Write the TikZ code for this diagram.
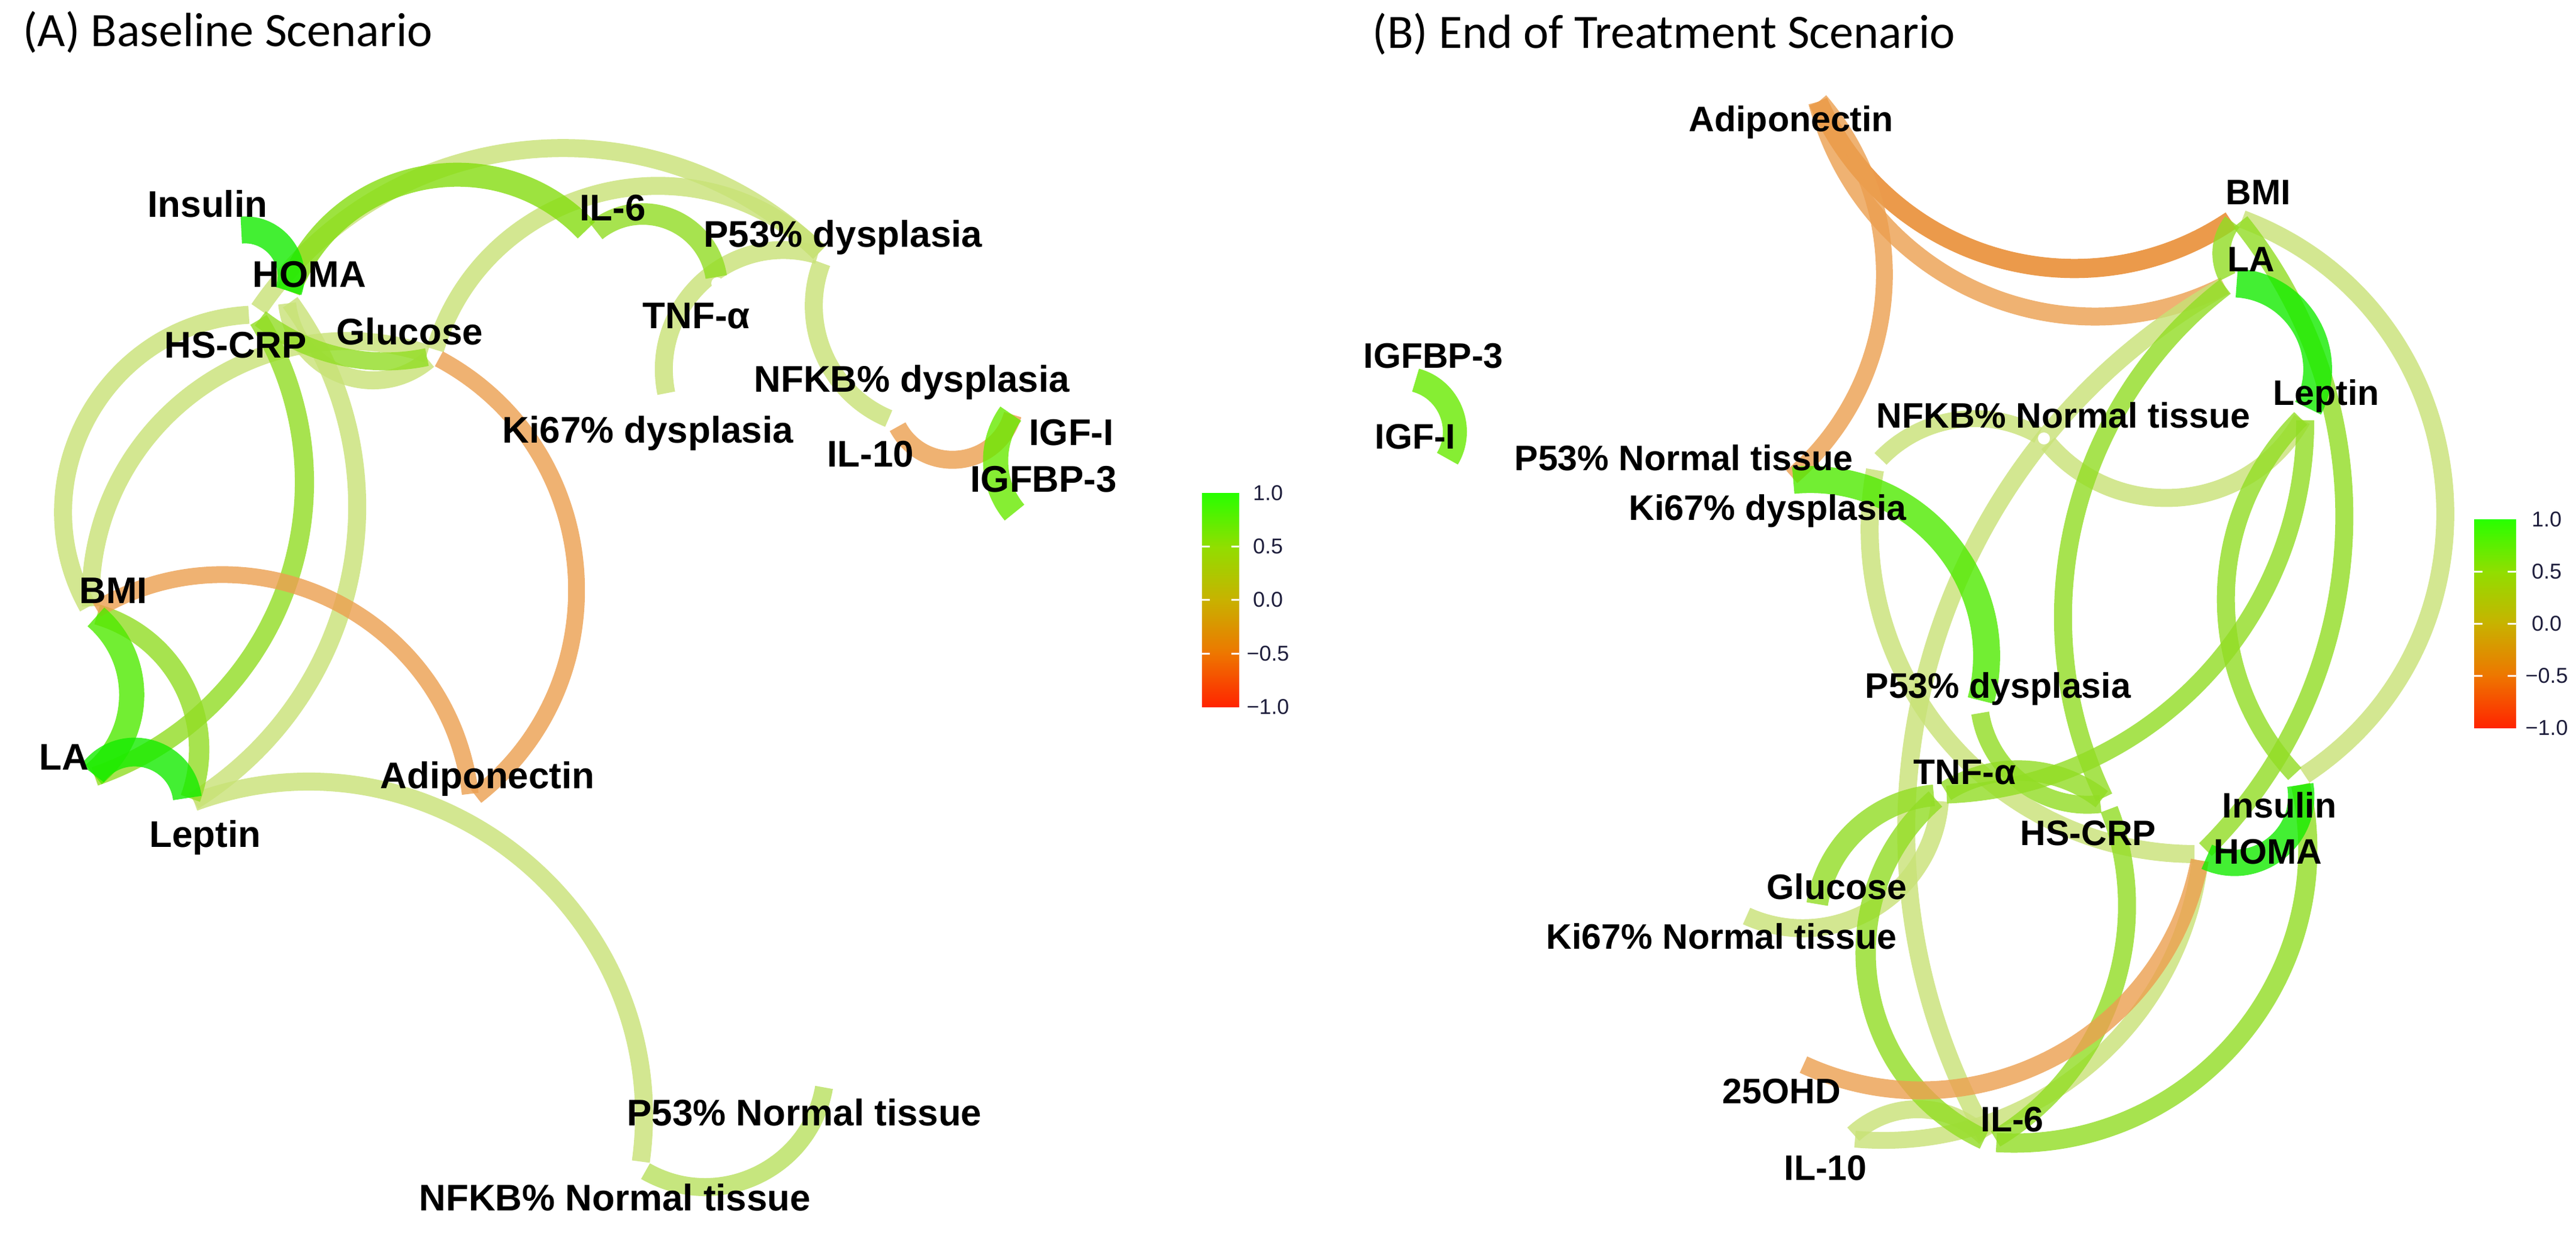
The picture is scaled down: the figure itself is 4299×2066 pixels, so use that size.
\documentclass[tikz,border=0pt]{standalone}
\usepackage{fontspec}
\setmainfont{Liberation Sans}
\newfontfamily\titlefont{Carlito}
\pgfdeclarelayer{bgl}
\pgfdeclarelayer{edges}
\pgfsetlayers{bgl,edges,main}
\definecolor{lg}{RGB}{200,226,118}
\definecolor{lgb}{RGB}{184,224,94}
\definecolor{mg}{RGB}{146,221,36}
\definecolor{hg}{RGB}{133,221,16}
\definecolor{brg}{RGB}{21,236,0}
\definecolor{brgb}{RGB}{79,234,0}
\definecolor{ig}{RGB}{104,234,0}
\definecolor{og}{RGB}{236,159,79}
\definecolor{ogd}{RGB}{231,129,31}
\definecolor{cbA}{RGB}{40,255,0}
\definecolor{cbB}{RGB}{145,222,0}
\definecolor{cbC}{RGB}{200,178,0}
\definecolor{cbD}{RGB}{238,118,0}
\definecolor{cbE}{RGB}{255,36,0}
\definecolor{numc}{RGB}{30,30,60}
\newcommand\myedge[7]{\draw[edge,#1,line width=#2cm] (#3) to[bend #4=#5,looseness=#6] (#7);}
\begin{document}
\begin{tikzpicture}[x=0.01cm,y=-0.01cm,
  dot/.style={circle,fill=white,inner sep=0pt,minimum size=0.2cm},
  edge/.style={draw opacity=0.8},
  labA/.style={inner sep=0pt,anchor=base west,font=\bfseries\fontsize{17.6}{20}\selectfont},
  labB/.style={inner sep=0pt,anchor=base west,font=\bfseries\fontsize{16.8}{19}\selectfont},
  ttl/.style={inner sep=0pt,anchor=base west,font=\titlefont\fontsize{22.8}{26}\selectfont},
  num/.style={inner sep=0pt,anchor=center,text=numc,font=\fontsize{10.2}{12}\selectfont},
  tick/.style={white,line width=0.03cm}]
\begin{pgfonlayer}{bgl}
\fill[white] (0,0) rectangle (4299,2066);
\end{pgfonlayer}
\useasboundingbox (0,0) rectangle (4299,2066);

% titles
\node[ttl] (titleA) at (38,77) {(A) Baseline Scenario};
\node[ttl] (titleB) at (2290,80) {(B) End of Treatment Scenario};

% ---------- panel A nodes ----------
\node[dot] (insA) at (392,385) {};
\node[dot] (homaA) at (478,496) {};
\node[dot] (hscrpA) at (426,525) {};
\node[dot] (gluA) at (723,594) {};
\node[dot] (il6A) at (986,392) {};
\node[dot] (p53dA) at (1375,429) {};
\node[dot] (tnfA) at (1197,473) {};
\node[dot] (ki67dA) at (1114,667) {};
\node[dot] (il10A) at (1493,703) {};
\node[dot] (igf1A) at (1693,682) {};
\node[dot] (igfbp3A) at (1700,864) {};
\node[dot] (bmiA) at (152,1023) {};
\node[dot] (laA) at (148,1300) {};
\node[dot] (leptinA) at (314,1343) {};
\node[dot] (adipoA) at (786,1336) {};
\node[dot] (nfkbntA) at (1068,1950) {};
\node[dot] (p53ntA) at (1377,1805) {};

% panel A labels
\node[labA] (insAl) at (246,362) {Insulin};
\node[labA] (homaAl) at (421,479) {HOMA};
\node[labA] (hscrpAl) at (274,597) {HS-CRP};
\node[labA] (gluAl) at (561,575) {Glucose};
\node[labA] (il6Al) at (967,368) {IL-6};
\node[labA] (p53dAl) at (1174,412) {P53\% dysplasia};
\node[labA] (tnfAl) at (1072,548) {TNF-α};
\node[labA] (nfkbdAl) at (1258,654) {NFKB\% dysplasia};
\node[labA] (ki67dAl) at (838,739) {Ki67\% dysplasia};
\node[labA] (il10Al) at (1380,779) {IL-10};
\node[labA] (igf1Al) at (1717,743) {IGF-I};
\node[labA] (igfbp3Al) at (1619,821) {IGFBP-3};
\node[labA] (bmiAl) at (132,1007) {BMI};
\node[labA] (laAl) at (65,1285) {LA};
\node[labA] (leptinAl) at (249,1414) {Leptin};
\node[labA] (adipoAl) at (634,1316) {Adiponectin};
\node[labA] (p53ntAl) at (1046,1879) {P53\% Normal tissue};
\node[labA] (nfkbntAl) at (699,2021) {NFKB\% Normal tissue};

% ---------- panel B nodes ----------
\node[dot] (adipoB) at (3030,160) {};
\node[dot] (bmiB) at (3732,362) {};
\node[dot] (laB) at (3722,472) {};
\node[dot] (leptinB) at (3847,691) {};
\node[dot] (nfkbntB) at (3411,732) {};
\node[dot] (p53ntB) at (3131,774) {};
\node[dot] (ki67dB) at (2982,803) {};
\node[dot] (p53dB) at (3303,1180) {};
\node[dot] (tnfB) at (3238,1327) {};
\node[dot] (hscrpB) at (3516,1341) {};
\node[dot] (insB) at (3837,1300) {};
\node[dot] (homaB) at (3673,1426) {};
\node[dot] (gluB) at (3031,1520) {};
\node[dot] (ki67ntB) at (2905,1525) {};
\node[dot] (ohdB) at (3000,1773) {};
\node[dot] (il6B) at (3321,1907) {};
\node[dot] (il10B) at (3085,1901) {};
\node[dot] (igfbp3B) at (2352,632) {};
\node[dot] (igf1B) at (2410,775) {};

% panel B labels
\node[labB] (adipoBl) at (2818,219) {Adiponectin};
\node[labB] (bmiBl) at (3714,341) {BMI};
\node[labB] (laBl) at (3717,453) {LA};
\node[labB] (leptinBl) at (3793,676) {Leptin};
\node[labB] (nfkbntBl) at (3131,714) {NFKB\% Normal tissue};
\node[labB] (p53ntBl) at (2527,785) {P53\% Normal tissue};
\node[labB] (ki67dBl) at (2718,868) {Ki67\% dysplasia};
\node[labB] (p53dBl) at (3112,1165) {P53\% dysplasia};
\node[labB] (tnfBl) at (3193,1309) {TNF-α};
\node[labB] (hscrpBl) at (3371,1411) {HS-CRP};
\node[labB] (insBl) at (3708,1365) {Insulin};
\node[labB] (homaBl) at (3694,1442) {HOMA};
\node[labB] (gluBl) at (2948,1501) {Glucose};
\node[labB] (ki67ntBl) at (2580,1584) {Ki67\% Normal tissue};
\node[labB] (ohdBl) at (2874,1842) {25OHD};
\node[labB] (il6Bl) at (3305,1889) {IL-6};
\node[labB] (il10Bl) at (2977,1970) {IL-10};
\node[labB] (igfbp3Bl) at (2275,614) {IGFBP-3};
\node[labB] (igf1Bl) at (2294,749) {IGF-I};

% ---------- edges ----------
\begin{pgfonlayer}{edges}
% panel A
\myedge{lg}{0.30}{hscrpA}{left}{50}{1.04}{p53dA}
\myedge{lg}{0.30}{gluA}{left}{59}{1.12}{p53dA}
\myedge{lg}{0.30}{ki67dA}{left}{59}{1.12}{p53dA}
\myedge{lg}{0.30}{p53dA}{right}{44}{0.99}{il10A}
\myedge{lg}{0.30}{hscrpA}{right}{58}{1.11}{bmiA}
\myedge{lg}{0.30}{gluA}{right}{55}{1.08}{bmiA}
\myedge{lg}{0.30}{homaA}{right}{62}{1.16}{gluA}
\myedge{lg}{0.30}{homaA}{left}{47}{1.02}{leptinA}
\myedge{lg}{0.30}{leptinA}{left}{59}{1.12}{nfkbntA}
\myedge{lgb}{0.30}{nfkbntA}{right}{55}{1.08}{p53ntA}
\myedge{mg}{0.30}{hscrpA}{right}{25}{0.89}{gluA}
\myedge{mg}{0.32}{hscrpA}{left}{51}{1.05}{laA}
\myedge{mg}{0.34}{bmiA}{left}{47}{1.02}{leptinA}
\myedge{mg}{0.36}{il6A}{left}{60}{1.14}{tnfA}
\myedge{hg}{0.40}{homaA}{left}{58}{1.11}{il6A}
\myedge{og}{0.28}{bmiA}{left}{57}{1.10}{adipoA}
\myedge{og}{0.28}{gluA}{left}{57}{1.10}{adipoA}
\myedge{og}{0.30}{il10A}{right}{68}{1.24}{igf1A}
\myedge{ig}{0.42}{igf1A}{right}{38}{0.95}{igfbp3A}
\myedge{brgb}{0.42}{laA}{right}{50}{1.04}{bmiA}
\myedge{brg}{0.48}{laA}{left}{68}{1.24}{leptinA}
\myedge{brg}{0.45}{insA}{left}{57}{1.10}{homaA}
% panel B
\myedge{ogd}{0.32}{adipoB}{right}{50}{1.04}{bmiB}
\myedge{og}{0.30}{adipoB}{right}{51}{1.05}{laB}
\myedge{og}{0.28}{adipoB}{left}{45}{1.00}{ki67dB}
\myedge{lg}{0.30}{bmiB}{left}{63}{1.17}{insB}
\myedge{lg}{0.30}{nfkbntB}{right}{55}{1.08}{leptinB}
\myedge{lg}{0.28}{p53ntB}{left}{38}{0.95}{nfkbntB}
\myedge{lg}{0.30}{p53ntB}{right}{50}{1.04}{homaB}
\myedge{lg}{0.30}{tnfB}{left}{55}{1.08}{ki67ntB}
\myedge{lg}{0.30}{il10B}{left}{44}{0.99}{il6B}
\myedge{lg}{0.30}{laB}{right}{45}{1.00}{il6B}
\myedge{lg}{0.28}{il10B}{right}{44}{0.99}{homaB}
\myedge{mg}{0.30}{bmiB}{left}{42}{0.98}{homaB}
\myedge{mg}{0.30}{leptinB}{right}{44}{0.99}{insB}
\myedge{mg}{0.30}{bmiB}{right}{33}{0.93}{laB}
\myedge{mg}{0.30}{p53dB}{right}{44}{0.99}{hscrpB}
\myedge{mg}{0.34}{tnfB}{left}{35}{0.94}{hscrpB}
\myedge{mg}{0.36}{tnfB}{right}{38}{0.95}{gluB}
\myedge{mg}{0.34}{tnfB}{right}{57}{1.10}{il6B}
\myedge{mg}{0.30}{hscrpB}{left}{40}{0.96}{il6B}
\myedge{mg}{0.30}{laB}{right}{39}{0.96}{hscrpB}
\myedge{mg}{0.30}{leptinB}{left}{44}{0.99}{tnfB}
\myedge{mg}{0.32}{il6B}{right}{53}{1.06}{insB}
\myedge{og}{0.30}{homaB}{left}{52}{1.05}{ohdB}
\myedge{brgb}{0.45}{ki67dB}{left}{55}{1.08}{p53dB}
\myedge{brg}{0.48}{laB}{left}{57}{1.10}{leptinB}
\myedge{brg}{0.44}{homaB}{right}{62}{1.16}{insB}
\myedge{ig}{0.40}{igfbp3B}{left}{53}{1.06}{igf1B}
\end{pgfonlayer}

% ---------- colour bars ----------
\shade[top color=cbA,bottom color=cbB] (2006,823) rectangle (2068,913);
\shade[top color=cbB,bottom color=cbC] (2006,912) rectangle (2068,1002);
\shade[top color=cbC,bottom color=cbD] (2006,1001) rectangle (2068,1092);
\shade[top color=cbD,bottom color=cbE] (2006,1091) rectangle (2068,1180);
\foreach \yy in {912,1001,1091}{
  \draw[tick] (2006,\yy) -- (2019,\yy);
  \draw[tick] (2055,\yy) -- (2068,\yy);}
\node[num] (cbAa) at (2116,823) {1.0};
\node[num] (cbAb) at (2116,912) {0.5};
\node[num] (cbAc) at (2116,1001) {0.0};
\node[num] (cbAd) at (2116,1091) {−0.5};
\node[num] (cbAe) at (2116,1180) {−1.0};

\shade[top color=cbA,bottom color=cbB] (4129,867) rectangle (4199,955);
\shade[top color=cbB,bottom color=cbC] (4129,954) rectangle (4199,1042);
\shade[top color=cbC,bottom color=cbD] (4129,1041) rectangle (4199,1129);
\shade[top color=cbD,bottom color=cbE] (4129,1128) rectangle (4199,1215);
\foreach \yy in {954,1041,1128}{
  \draw[tick] (4129,\yy) -- (4143,\yy);
  \draw[tick] (4185,\yy) -- (4199,\yy);}
\node[num] (cbBa) at (4250,867) {1.0};
\node[num] (cbBb) at (4250,954) {0.5};
\node[num] (cbBc) at (4250,1041) {0.0};
\node[num] (cbBd) at (4250,1128) {−0.5};
\node[num] (cbBe) at (4250,1215) {−1.0};
\end{tikzpicture}
\end{document}
